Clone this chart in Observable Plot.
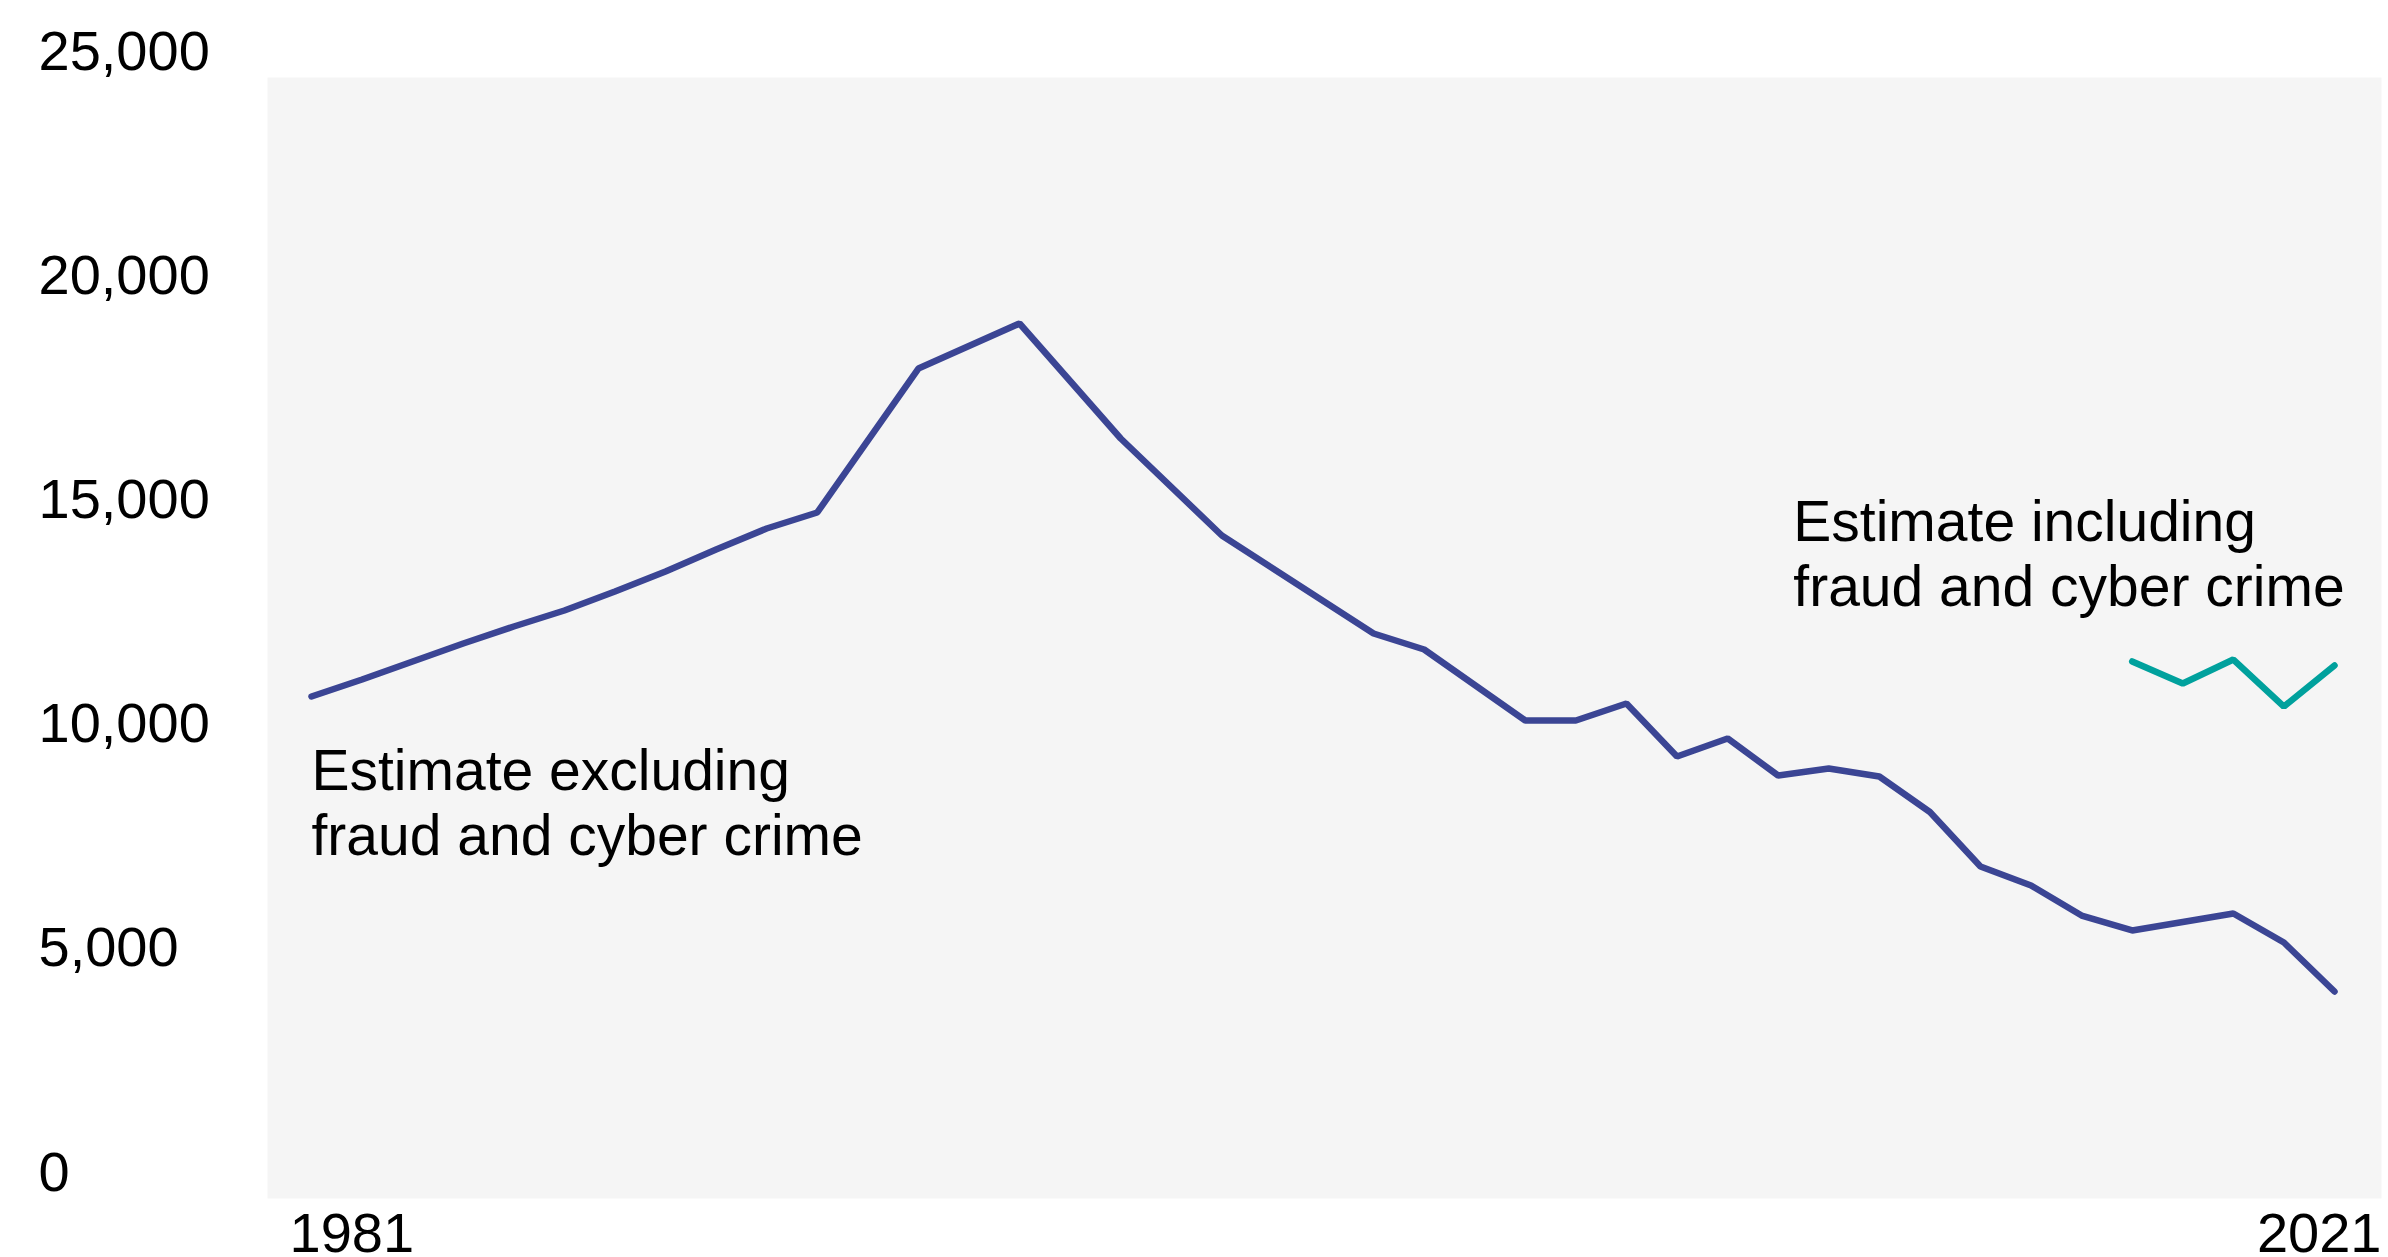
<!DOCTYPE html>
<html>
<head>
<meta charset="utf-8">
<script src="https://cdn.jsdelivr.net/npm/d3@7"></script>
<script src="https://cdn.jsdelivr.net/npm/@observablehq/plot@0.6"></script>
<style>
  html, body { margin: 0; padding: 0; background: #ffffff; }
  #chart svg { display: block; }
</style>
</head>
<body>
<div id="chart"></div>
<script>
// Estimate excluding fraud and cyber crime
const exclYears = [1981, 1982, 1983, 1984, 1985, 1986, 1987, 1988, 1989, 1990, 1991,
  1993, 1995, 1997, 1999, 2002, 2003, 2005, 2006, 2007, 2008, 2009, 2010, 2011, 2012,
  2013, 2014, 2015, 2016, 2017, 2019, 2020, 2021];
const exclValues = [11195, 11574, 11976, 12377, 12756, 13113, 13537, 13983, 14474, 14942, 15299,
  18510, 19514, 16949, 14786, 12600, 12243, 10660, 10660, 11039, 9857, 10259, 9433, 9590, 9411,
  8620, 7404, 6980, 6311, 5977, 6356, 5709, 4616];

// Estimate including fraud and cyber crime
const inclYears = [2017, 2018, 2019, 2020, 2021];
const inclValues = [11976, 11485, 12020, 10972, 11887];

// Axis ticks
const yTicks = [0, 5000, 10000, 15000, 20000, 25000];
const xTickFirst = [1981];
const xTickLast = [2021];

// Annotations
const labelTexts = ["Estimate excluding\nfraud and cyber crime", "Estimate including\nfraud and cyber crime"];
const labelYears = [1981, 2010.3];
const labelValues = [10150, 15710];

const excl = exclYears.map((year, i) => ({year, value: exclValues[i]}));
const incl = inclYears.map((year, i) => ({year, value: inclValues[i]}));
const labels = labelTexts.map((text, i) => ({text, year: labelYears[i], value: labelValues[i]}));

const chart = Plot.plot({
  width: 2388,
  height: 1257,
  marginLeft: 267,
  marginRight: 7,
  marginTop: 77,
  marginBottom: 59,
  style: {
    fontFamily: "'Liberation Sans', Arial, Helvetica, sans-serif",
    fontSize: "56px",
    color: "#000000",
    background: "#ffffff",
    overflow: "visible"
  },
  x: {domain: [1981, 2021], insetLeft: 44, insetRight: 47},
  y: {domain: [0, 25000]},
  marks: [
    Plot.frame({fill: "#f5f5f5", stroke: "none"}),
    Plot.axisY({
      ticks: yTicks, tickSize: 0, tickPadding: 0, textAnchor: "start",
      dx: -229, lineAnchor: "bottom", dy: -8, fill: "#000000",
      tickFormat: d3.format(","), label: null
    }),
    Plot.axisX({
      ticks: xTickFirst, tickSize: 0, tickPadding: 14, textAnchor: "start",
      dx: -22, fill: "#000000", tickFormat: d => String(d), label: null
    }),
    Plot.axisX({
      ticks: xTickLast, tickSize: 0, tickPadding: 14, textAnchor: "end",
      dx: 47, fill: "#000000", tickFormat: d => String(d), label: null
    }),
    Plot.lineY(excl, {
      x: "year", y: "value", stroke: "#3b4594", strokeWidth: 6.5,
      strokeLinecap: "round", strokeLinejoin: "miter"
    }),
    Plot.lineY(incl, {
      x: "year", y: "value", stroke: "#00a19d", strokeWidth: 6.5,
      strokeLinecap: "round", strokeLinejoin: "miter"
    }),
    Plot.text(labels, {
      x: "year", y: "value", text: "text", textAnchor: "start",
      lineAnchor: "top", lineHeight: 1.15, fill: "#000000", fontSize: 57
    })
  ]
});
document.getElementById("chart").appendChild(chart);
</script>
</body>
</html>
